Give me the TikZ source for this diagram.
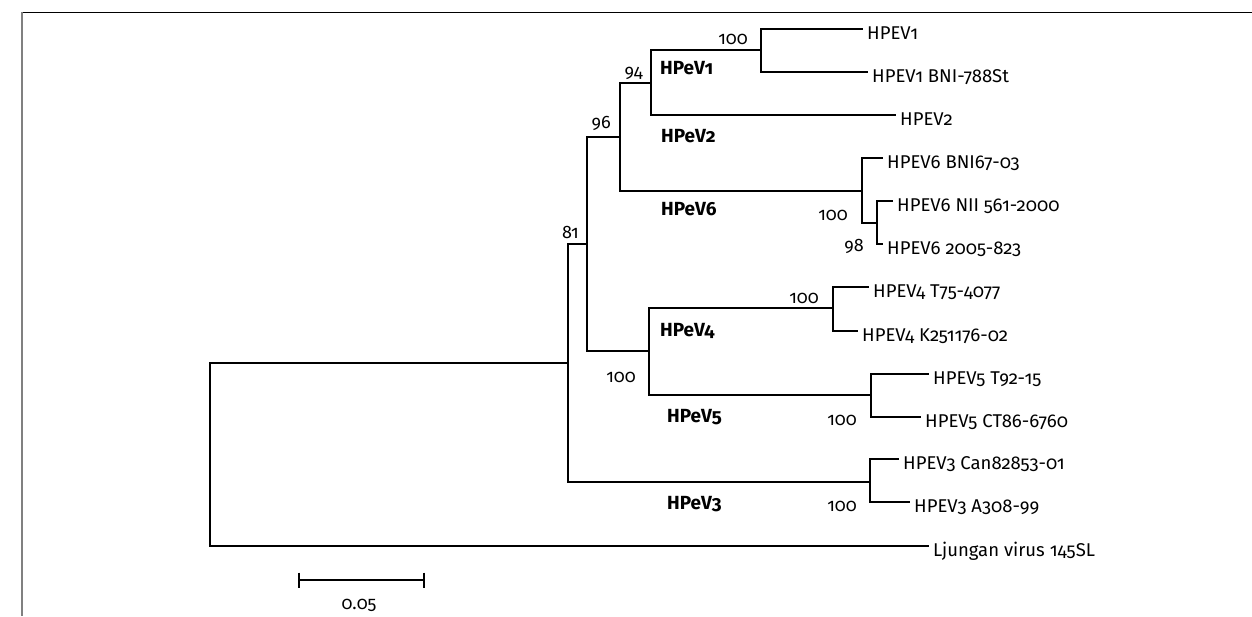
\documentclass[tikz,border=0pt]{standalone}
\usepackage{fontspec}
\setmainfont{Fira Sans}[Numbers=OldStyle]
\begin{document}
\begin{tikzpicture}[x=1pt,y=-1pt,
  branch/.style={line width=2pt,line cap=rect},
  leaflabel/.style={anchor=base west,inner sep=0pt,font=\fontsize{18.5}{21}\selectfont},
  boot/.style={anchor=base east,inner sep=0pt,font=\fontsize{18}{20}\selectfont},
  clade/.style={anchor=base west,inner sep=0pt,font=\bfseries\fontsize{19}{21}\selectfont}]
\useasboundingbox (0,0) rectangle (1252,616);
% frame
\draw[line width=1.3pt,black] (21,12.5) -- (1252,12.5);
\draw[line width=2pt,gray] (21.7,12) -- (21.7,616);
% internal nodes
\coordinate (R) at (210,363);
\coordinate (A) at (568,363);
\coordinate (B) at (587,244);
\coordinate (C) at (620,137);
\coordinate (E) at (651,83);
\coordinate (H1) at (761,50);
\coordinate (H6) at (862,191);
\coordinate (F) at (877,223);
\coordinate (D) at (649,351);
\coordinate (H4) at (833,308);
\coordinate (H5) at (871,395);
\coordinate (H3) at (870,482);
% leaf ends
\coordinate (l1) at (862,29);
\coordinate (l2) at (867,72);
\coordinate (l3) at (895,115);
\coordinate (l4) at (882,158);
\coordinate (l5) at (892,201);
\coordinate (l6) at (882,244);
\coordinate (l7) at (868,287);
\coordinate (l8) at (857,331);
\coordinate (l9) at (928,374);
\coordinate (l10) at (920,417);
\coordinate (l11) at (898,459);
\coordinate (l12) at (909,502);
\coordinate (l13) at (928,546);
% branches
\draw[branch] (R) |- (A);
\draw[branch] (R) |- (l13);
\draw[branch] (A) |- (B);
\draw[branch] (A) |- (H3);
\draw[branch] (B) |- (C);
\draw[branch] (B) |- (D);
\draw[branch] (C) |- (E);
\draw[branch] (C) |- (H6);
\draw[branch] (E) |- (H1);
\draw[branch] (E) |- (l3);
\draw[branch] (H1) |- (l1);
\draw[branch] (H1) |- (l2);
\draw[branch] (H6) |- (l4);
\draw[branch] (H6) |- (F);
\draw[branch] (F) |- (l5);
\draw[branch] (F) |- (l6);
\draw[branch] (D) |- (H4);
\draw[branch] (D) |- (H5);
\draw[branch] (H4) |- (l7);
\draw[branch] (H4) |- (l8);
\draw[branch] (H5) |- (l9);
\draw[branch] (H5) |- (l10);
\draw[branch] (H3) |- (l11);
\draw[branch] (H3) |- (l12);
% leaf labels
\node[leaflabel] (t1) at ([xshift=5pt,yshift=-10pt]l1) {HPEV1};
\node[leaflabel] (t2) at ([xshift=5pt,yshift=-10pt]l2) {HPEV1 BNI-788St};
\node[leaflabel] (t3) at ([xshift=5pt,yshift=-10pt]l3) {HPEV2};
\node[leaflabel] (t4) at ([xshift=5pt,yshift=-10pt]l4) {HPEV6 BNI67-03};
\node[leaflabel] (t5) at ([xshift=5pt,yshift=-10pt]l5) {HPEV6 NII 561-2000};
\node[leaflabel] (t6) at ([xshift=5pt,yshift=-10pt]l6) {HPEV6 2005-823};
\node[leaflabel] (t7) at ([xshift=5pt,yshift=-10pt]l7) {HPEV4 T75-4077};
\node[leaflabel] (t8) at ([xshift=5pt,yshift=-10pt]l8) {HPEV4 K251176-02};
\node[leaflabel] (t9) at ([xshift=5pt,yshift=-10pt]l9) {HPEV5 T92-15};
\node[leaflabel] (t10) at ([xshift=5pt,yshift=-10pt]l10) {HPEV5 CT86-6760};
\node[leaflabel] (t11) at ([xshift=5pt,yshift=-10pt]l11) {HPEV3 Can82853-01};
\node[leaflabel] (t12) at ([xshift=5pt,yshift=-10pt]l12) {HPEV3 A308-99};
\node[leaflabel] (t13) at ([xshift=5pt,yshift=-10pt]l13) {Ljungan virus 145SL};
% bootstrap values
\node[boot] (b1) at (748,44) {100};
\node[boot] (b2) at (643,77) {94};
\node[boot] (b3) at (611,128) {96};
\node[boot] (b4) at (579,238) {81};
\node[boot] (b5) at (848,220) {100};
\node[boot] (b6) at (864,251) {98};
\node[boot] (b7) at (819,303) {100};
\node[boot] (b8) at (636,382) {100};
\node[boot] (b9) at (857,425) {100};
\node[boot] (b10) at (857,511) {100};
% clade labels
\node[clade] (c1) at (660,74) {HPeV1};
\node[clade] (c2) at (661,142) {HPeV2};
\node[clade] (c6) at (661,215) {HPeV6};
\node[clade] (c4) at (660,336) {HPeV4};
\node[clade] (c5) at (667,422) {HPeV5};
\node[clade] (c3) at (667,509) {HPeV3};
% scale bar
\coordinate (s1) at (299,580);
\coordinate (s2) at (424,580);
\draw[line width=2pt] (s1) -- (s2);
\draw[line width=2pt] ([yshift=7.5pt]s1) -- ([yshift=-7.5pt]s1);
\draw[line width=2pt] ([yshift=7.5pt]s2) -- ([yshift=-7.5pt]s2);
\node[anchor=base,inner sep=0pt,font=\fontsize{18}{20}\selectfont] (sl) at (359,609) {0.05};
\end{tikzpicture}
\end{document}
